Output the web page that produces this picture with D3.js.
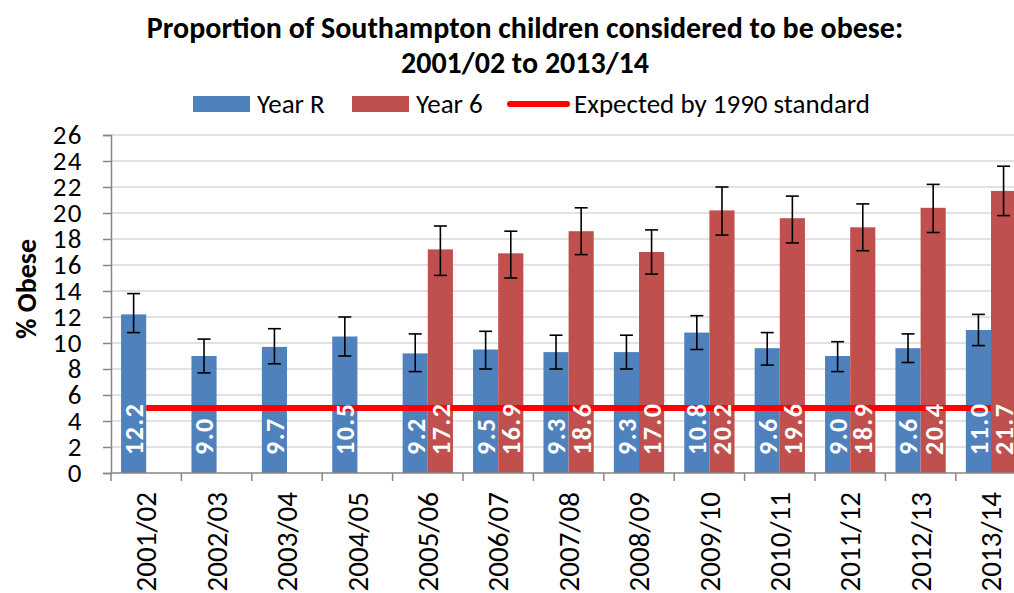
<!DOCTYPE html>
<html>
<head>
<meta charset="utf-8">
<script src="https://cdn.jsdelivr.net/npm/d3@7"></script>
<style>
  body { margin: 0; background: #fff; }
  svg text { font-family: Carlito, "Liberation Sans Narrow", "Liberation Sans", sans-serif; }
</style>
</head>
<body>
<div id="chart"></div>
<script>
(function() {
  var width = 1014,
    height = 593;

  // school years
  var years = ["2001/02", "2002/03", "2003/04", "2004/05", "2005/06", "2006/07", "2007/08",
    "2008/09", "2009/10", "2010/11", "2011/12", "2012/13", "2013/14"];

  // % obese, Year R (reception)
  var yearR = [12.2, 9.0, 9.7, 10.5, 9.2, 9.5, 9.3, 9.3, 10.8, 9.6, 9.0, 9.6, 11.0];
  var yearRLow = [10.8, 7.7, 8.4, 9.0, 7.8, 8.0, 8.0, 8.0, 9.5, 8.3, 7.8, 8.5, 9.8];
  var yearRHigh = [13.8, 10.3, 11.1, 12.0, 10.7, 10.9, 10.6, 10.6, 12.1, 10.8, 10.1, 10.7, 12.2];

  // % obese, Year 6 (no data before 2005/06)
  var year6 = [null, null, null, null, 17.2, 16.9, 18.6, 17.0, 20.2, 19.6, 18.9, 20.4, 21.7];
  var year6Low = [null, null, null, null, 15.2, 15.0, 16.8, 15.3, 18.3, 17.7, 17.1, 18.5, 19.8];
  var year6High = [null, null, null, null, 19.0, 18.6, 20.4, 18.7, 22.0, 21.3, 20.7, 22.2, 23.6];

  // expected under the 1990 reference
  var expected = 5;

  var yTicks = d3.range(0, 27, 2);

  var series = [
    { key: "Year R", color: "#4f81bd", values: yearR, lo: yearRLow, hi: yearRHigh },
    { key: "Year 6", color: "#c0504d", values: year6, lo: year6Low, hi: year6High }
  ];

  var svg = d3.select("#chart")
    .append("svg")
    .attr("width", width)
    .attr("height", height);

  svg.append("rect").attr("width", width).attr("height", height).attr("fill", "#fff");

  var left = 111, top = 135, bottom = 473;
  var step = 70.4;

  var x = d3.scaleBand()
    .domain(years)
    .range([left, left + step * years.length]);

  var inner = d3.scaleBand()
    .domain(series.map(function(d) { return d.key; }))
    .range([0, x.bandwidth()])
    .paddingOuter(0.4);

  var y = d3.scaleLinear()
    .domain([0, 26])
    .range([bottom, top]);

  // gridlines
  svg.append("g")
    .selectAll("line")
    .data(yTicks.slice(1))
    .enter().append("line")
    .attr("x1", left)
    .attr("x2", width)
    .attr("y1", function(d) { return y(d); })
    .attr("y2", function(d) { return y(d); })
    .attr("stroke", "#d9d9d9")
    .attr("stroke-width", 1.5);

  // y axis
  var yAxis = svg.append("g")
    .attr("transform", "translate(" + left + ",0)")
    .call(d3.axisLeft(y).tickValues(yTicks).tickSize(8).tickPadding(20));
  yAxis.select(".domain").attr("stroke", "#868686").attr("stroke-width", 1.5);
  yAxis.selectAll(".tick line").attr("stroke", "#868686").attr("stroke-width", 1.5);
  yAxis.selectAll(".tick text")
    .attr("font-family", null)
    .attr("font-size", 27)
    .attr("letter-spacing", 1.5)
    .attr("fill", "#000");

  // bars
  series.forEach(function(s) {
    var rows = years.map(function(yr, i) {
      return { year: yr, v: s.values[i], lo: s.lo[i], hi: s.hi[i] };
    }).filter(function(d) { return d.v != null; });

    var g = svg.append("g").attr("class", "series");

    g.selectAll("rect")
      .data(rows)
      .enter().append("rect")
      .attr("x", function(d) { return x(d.year) + inner(s.key); })
      .attr("y", function(d) { return y(d.v); })
      .attr("width", inner.bandwidth())
      .attr("height", function(d) { return y(0) - y(d.v); })
      .attr("fill", s.color);

    s.rows = rows;
  });

  // x axis
  var xAxis = svg.append("g")
    .attr("transform", "translate(0," + bottom + ")");
  xAxis.append("line")
    .attr("x1", left).attr("x2", width)
    .attr("stroke", "#868686").attr("stroke-width", 1.5);
  xAxis.selectAll(".xtick")
    .data(years)
    .enter().append("line")
    .attr("x1", function(d) { return x(d); })
    .attr("x2", function(d) { return x(d); })
    .attr("y1", 0).attr("y2", 8)
    .attr("stroke", "#868686").attr("stroke-width", 1.5);
  xAxis.selectAll(".xlabel")
    .data(years)
    .enter().append("text")
    .attr("transform", function(d) {
      return "translate(" + (x(d) + x.bandwidth() / 2) + ",19) rotate(-90)";
    })
    .attr("text-anchor", "end")
    .attr("dy", "0.35em")
    .attr("font-size", 29)
    .text(function(d) { return d; });

  // error bars
  series.forEach(function(s) {
    var eb = svg.append("g").attr("stroke", "#000").attr("stroke-width", 1.6);
    var cx = function(d) { return x(d.year) + inner(s.key) + inner.bandwidth() / 2; };
    s.rows.forEach(function(d) {
      eb.append("line")
        .attr("x1", cx(d)).attr("x2", cx(d))
        .attr("y1", y(d.lo)).attr("y2", y(d.hi));
      [d.lo, d.hi].forEach(function(v) {
        eb.append("line")
          .attr("x1", cx(d) - 6.5).attr("x2", cx(d) + 6.5)
          .attr("y1", y(v)).attr("y2", y(v));
      });
    });
  });

  // expected line
  svg.append("line")
    .attr("x1", x(years[0]) + x.bandwidth() / 2)
    .attr("x2", x(years[years.length - 1]) + x.bandwidth() / 2)
    .attr("y1", y(expected))
    .attr("y2", y(expected))
    .attr("stroke", "#ff0000")
    .attr("stroke-width", 6);

  // data labels, inside base
  series.forEach(function(s) {
    svg.append("g")
      .selectAll("text")
      .data(s.rows)
      .enter().append("text")
      .attr("transform", function(d) {
        return "translate(" + (x(d.year) + inner(s.key) + inner.bandwidth() / 2) + "," + (bottom - 18) + ") rotate(-90)";
      })
      .attr("dy", "0.36em")
      .attr("fill", "#fff")
      .attr("font-weight", "bold")
      .attr("font-size", 26)
      .attr("letter-spacing", 1.5)
      .text(function(d) { return d.v.toFixed(1); });
  });

  // y axis title
  svg.append("text")
    .attr("transform", "translate(26,289) rotate(-90)")
    .attr("text-anchor", "middle")
    .attr("dy", "0.35em")
    .attr("font-weight", "bold")
    .attr("font-size", 28)
    .text("% Obese");

  // title
  var title = svg.append("text")
    .attr("x", 525)
    .attr("text-anchor", "middle")
    .attr("font-weight", "bold")
    .attr("font-size", 30);
  title.append("tspan").attr("x", 525).attr("y", 38)
    .text("Proportion  of Southampton  children considered to be obese:");
  title.append("tspan").attr("x", 525).attr("y", 73)
    .text("2001/02 to 2013/14");

  // legend
  var legend = svg.append("g").attr("transform", "translate(0,104)");
  var items = [
    { label: "Year R", color: "#4f81bd", kind: "rect", x: 193 },
    { label: "Year 6", color: "#c0504d", kind: "rect", x: 352 },
    { label: "Expected by 1990 standard", color: "#ff0000", kind: "line", x: 510 }
  ];
  var li = legend.selectAll("g")
    .data(items)
    .enter().append("g")
    .attr("transform", function(d) { return "translate(" + d.x + ",0)"; });
  li.filter(function(d) { return d.kind === "rect"; })
    .append("rect")
    .attr("y", -8).attr("width", 57).attr("height", 16)
    .attr("fill", function(d) { return d.color; });
  li.filter(function(d) { return d.kind === "line"; })
    .append("line")
    .attr("x1", 0).attr("x2", 57)
    .attr("stroke", function(d) { return d.color; })
    .attr("stroke-width", 6)
    .attr("stroke-linecap", "round");
  li.append("text")
    .attr("x", 64)
    .attr("dy", "0.35em")
    .attr("font-size", 27)
    .text(function(d) { return d.label; });
})();
</script>
</body>
</html>
